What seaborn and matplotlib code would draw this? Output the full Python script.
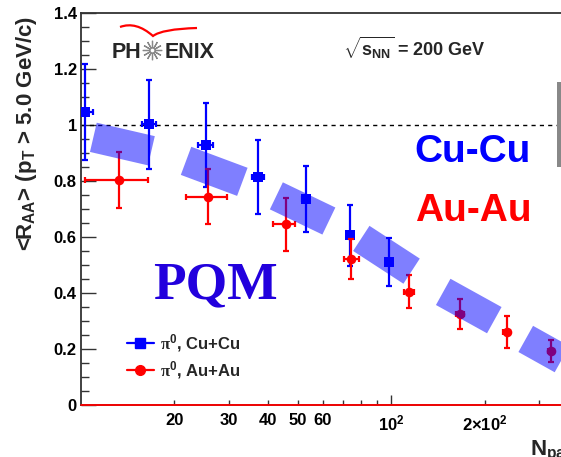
import numpy as np
import pandas as pd
import matplotlib
matplotlib.use("Agg")
import matplotlib.pyplot as plt
import seaborn as sns
from matplotlib.lines import Line2D
from matplotlib.path import Path
from matplotlib.patches import PathPatch
from matplotlib.ticker import FixedLocator, FixedFormatter

# ---------------- data ----------------
cu_npart = [10.3, 16.6, 25.3, 37.3, 52.9, 73.4, 98.2]
cu_raa = [1.047, 1.002, 0.929, 0.813, 0.736, 0.607, 0.510]
cu_yerr = [0.172, 0.158, 0.150, 0.132, 0.118, 0.109, 0.086]
cu_xerr = [0.6, 0.9, 1.4, 1.7, 1.3, 1.6, 1.8]

au_npart = [13.3, 25.6, 45.6, 74.3, 114.0, 167.0, 235.0, 327.0]
au_raa = [0.804, 0.744, 0.646, 0.521, 0.405, 0.325, 0.260, 0.193]
au_yerr = [0.100, 0.098, 0.095, 0.071, 0.060, 0.052, 0.058, 0.040]
au_xerr_lo = [3.0, 3.8, 3.9, 3.9, 4.0, 5.0, 6.0, 8.0]
au_xerr_hi = [3.1, 3.9, 3.3, 4.2, 4.0, 5.0, 6.0, 8.0]

# PQM model bands: segment start / end (Npart, RAA)
band_x1 = [10.96, 21.8, 42.6, 80.0, 146.9, 271.0]
band_y1 = [0.956, 0.872, 0.747, 0.595, 0.404, 0.236]
band_x2 = [16.86, 33.1, 62.9, 116.2, 214.6, 399.0]
band_y2 = [0.908, 0.797, 0.657, 0.478, 0.303, 0.132]

# normalisation uncertainty box (right edge)
norm_lo, norm_hi = 0.849, 1.153
norm_x = [341.0, 420.0]

yticks = [0, 0.2, 0.4, 0.6, 0.8, 1.0, 1.2, 1.4]
ytick_labels = ["0", "0.2", "0.4", "0.6", "0.8", "1", "1.2", "1.4"]
xmajor = [100]
xmajor_labels = ["10$^{2}$"]
xminor = [20, 30, 40, 50, 60, 70, 80, 90, 200, 300]
xminor_labels = ["20", "30", "40", "50", "60", "", "", "", "2×10$^{2}$", ""]

# ---------------- style ----------------
sns.set_theme(style="ticks")
plt.rcParams["font.family"] = ["Liberation Sans", "DejaVu Sans"]
plt.rcParams["font.weight"] = "bold"
plt.rcParams["mathtext.fontset"] = "custom"
plt.rcParams["mathtext.rm"] = "Liberation Sans:bold"
plt.rcParams["mathtext.bf"] = "Liberation Sans:bold"
plt.rcParams["mathtext.it"] = "Liberation Sans:bold"
plt.rcParams["mathtext.sf"] = "Liberation Serif"

W, H = 561, 457
fig = plt.figure(figsize=(W / 100, H / 100), dpi=100)
ax = fig.add_axes([81 / W, 1 - 405 / H, 1 - 81 / W, (405 - 13) / H])
ax.set_xscale("log")
ax.set_xlim(10, 352)
ax.set_ylim(0, 1.4)

def fx(px):
    return px / W

def fy(py):
    return 1 - py / H

# reference lines
ax.axhline(1.0, color="black", lw=1.0, ls=(0, (3, 3)), zorder=1)
ax.fill_between(norm_x, norm_lo, norm_hi, color="#888888", lw=0, zorder=1)

# Cu+Cu
ax.errorbar(cu_npart, cu_raa, yerr=cu_yerr, xerr=cu_xerr, fmt="none",
            ecolor="blue", elinewidth=1.6, capsize=2.2, capthick=1.6, zorder=2)
df_cu = pd.DataFrame({"npart": cu_npart, "raa": cu_raa})
sns.scatterplot(data=df_cu, x="npart", y="raa", marker="s", s=48, color="blue",
                edgecolor="blue", linewidth=0, zorder=3, ax=ax, legend=False)

# Au+Au
ax.errorbar(au_npart, au_raa, yerr=au_yerr, xerr=[au_xerr_lo, au_xerr_hi], fmt="none",
            ecolor="red", elinewidth=1.6, capsize=2.2, capthick=1.6, zorder=4)
df_au = pd.DataFrame({"npart": au_npart, "raa": au_raa})
sns.scatterplot(data=df_au, x="npart", y="raa", marker="o", s=48, color="red",
                edgecolor="red", linewidth=0, zorder=5, ax=ax, legend=False)

# PQM bands
rows = []
for i in range(len(band_x1)):
    rows.append({"band": i, "npart": band_x1[i], "raa": band_y1[i]})
    rows.append({"band": i, "npart": band_x2[i], "raa": band_y2[i]})
df_band = pd.DataFrame(rows)
sns.lineplot(data=df_band, x="npart", y="raa", units="band", estimator=None, sort=False,
             color="blue", alpha=0.5, lw=21.6, solid_capstyle="butt", zorder=6,
             ax=ax, legend=False)

ax.axhline(0.0, color="red", lw=1.3, zorder=7, clip_on=False)

# ticks
ax.set_yticks(yticks)
ax.set_yticklabels(ytick_labels)
ax.yaxis.set_minor_locator(FixedLocator(np.arange(0, 1.41, 0.05)))
ax.xaxis.set_major_locator(FixedLocator(xmajor))
ax.xaxis.set_major_formatter(FixedFormatter(xmajor_labels))
ax.xaxis.set_minor_locator(FixedLocator(xminor))
ax.xaxis.set_minor_formatter(FixedFormatter(xminor_labels))
ax.tick_params(axis="both", which="both", direction="in", colors="#333333",
               labelcolor="black", labelsize=12)
ax.tick_params(axis="y", which="major", length=10.8, width=1.0, pad=3)
ax.tick_params(axis="y", which="minor", length=5.5, width=1.0)
ax.tick_params(axis="x", which="major", length=7, width=1.0, pad=6)
ax.tick_params(axis="x", which="minor", length=3.6, width=1.0, pad=6)
for lab in ax.get_xticklabels(which="both") + ax.get_yticklabels():
    lab.set_fontweight("bold")
ax.set_xlabel("")
ax.set_ylabel("")
for s in ["left", "top", "bottom"]:
    ax.spines[s].set_color("#333333")
    ax.spines[s].set_linewidth(1.3)
ax.spines["right"].set_visible(False)

# axis titles
fig.text(fx(27), fy(133), r"<R$_{\mathrm{AA}}$> (p$_{\mathrm{T}}$ > 5.0 GeV/c)",
         rotation=90, ha="center", va="center", fontsize=16, fontweight="bold")
fig.text(fx(530), fy(455), r"N$_{\mathrm{part}}$", ha="left", va="baseline",
         fontsize=16, fontweight="bold")

# annotations
fig.text(fx(343), fy(56), r"$\sqrt{\mathrm{s_{NN}}}$ = 200 GeV", ha="left",
         va="baseline", fontsize=13, fontweight="bold")
fig.text(fx(473), fy(152), "Cu-Cu", color="blue", ha="center", va="center",
         fontsize=28, fontweight="bold")
fig.text(fx(473), fy(211), "Au-Au", color="red", ha="center", va="center",
         fontsize=28, fontweight="bold")
fig.text(fx(215), fy(298), "PQM", color="#2200dd", ha="center", va="baseline",
         fontsize=38.5, fontweight="bold", family="Liberation Serif")

# PHENIX logo
fig.text(fx(112), fy(58), "PH", ha="left", va="baseline", fontsize=15.5, fontweight="bold")
fig.text(fx(165), fy(58), "ENIX", ha="left", va="baseline", fontsize=15.5, fontweight="bold")
star = Line2D([fx(152)], [fy(50)], marker=(12, 2, 0), markersize=14, color="#888888",
              mew=0.9, transform=fig.transFigure)
fig.add_artist(star)
ring = Line2D([fx(152)], [fy(50)], marker="o", markersize=3.5, mfc="white",
              mec="#888888", mew=0.8, transform=fig.transFigure)
fig.add_artist(ring)
verts = [(120, 27), (136, 21), (153, 36), (162, 29), (197, 28)]
verts = [(fx(a), fy(b)) for a, b in verts]
path = Path(verts, [Path.MOVETO, Path.CURVE3, Path.CURVE3, Path.CURVE3, Path.CURVE3])
fig.add_artist(PathPatch(path, fill=False, edgecolor="red", lw=1.6,
                         transform=fig.transFigure))

# legend
handles = [Line2D([], [], color="blue", marker="s", ms=7, lw=1.6),
           Line2D([], [], color="red", marker="o", ms=7, lw=1.6)]
labels = [r"$\mathsf{\pi}^{0}$, Cu+Cu", r"$\mathsf{\pi}^{0}$, Au+Au"]
leg = ax.legend(handles, labels, loc="upper left",
                bbox_to_anchor=((127 - 81) / 480, (405 - 332) / 392),
                frameon=False, borderpad=0, borderaxespad=0, handlelength=1.6,
                handletextpad=0.4, labelspacing=0.3,
                prop={"size": 12, "weight": "bold"})

fig.savefig("out.png", dpi=100)
